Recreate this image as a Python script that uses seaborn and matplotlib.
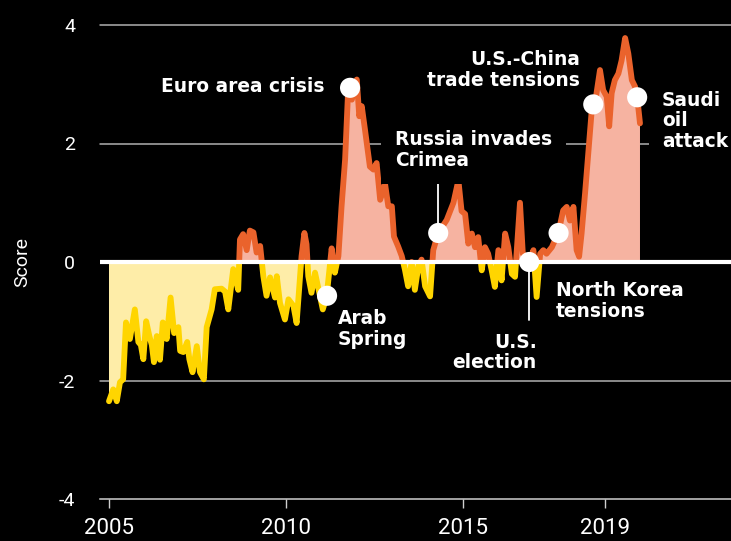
import matplotlib
matplotlib.use("Agg")
import matplotlib.pyplot as plt
from matplotlib.patches import Rectangle
import seaborn as sns
import numpy as np

# decimal year readings of the score line
years = [
    2005.00, 2005.12, 2005.22, 2005.31, 2005.40, 2005.48, 2005.59, 2005.73, 2005.83, 2005.90,
    2005.97, 2006.05, 2006.14, 2006.21, 2006.27, 2006.35, 2006.44, 2006.52, 2006.63, 2006.74,
    2006.84, 2006.96, 2007.01, 2007.10, 2007.21, 2007.27, 2007.36, 2007.48, 2007.57, 2007.68,
    2007.76, 2007.90, 2007.99, 2008.18, 2008.28, 2008.37, 2008.51, 2008.65, 2008.70, 2008.79,
    2008.89, 2008.98, 2009.08, 2009.17, 2009.27, 2009.36, 2009.45, 2009.55, 2009.69, 2009.74,
    2009.83, 2009.97, 2010.07, 2010.21, 2010.30, 2010.44, 2010.52, 2010.58, 2010.63, 2010.72,
    2010.82, 2010.94, 2011.04, 2011.15, 2011.29, 2011.38, 2011.48, 2011.57, 2011.67, 2011.76,
    2011.86, 2011.95, 2012.00, 2012.07, 2012.14, 2012.23, 2012.37, 2012.47, 2012.56, 2012.66,
    2012.80, 2012.89, 2012.99, 2013.05, 2013.17, 2013.27, 2013.36, 2013.45, 2013.55, 2013.64,
    2013.74, 2013.83, 2013.93, 2014.07, 2014.16, 2014.30, 2014.54, 2014.73, 2014.87, 2014.96,
    2015.06, 2015.15, 2015.25, 2015.34, 2015.43, 2015.53, 2015.62, 2015.71, 2015.81, 2015.90,
    2016.00, 2016.09, 2016.19, 2016.28, 2016.38, 2016.47, 2016.61, 2016.69, 2016.78, 2016.87,
    2016.99, 2017.08, 2017.18, 2017.27, 2017.36, 2017.51, 2017.60, 2017.69, 2017.83, 2017.93,
    2018.02, 2018.12, 2018.21, 2018.28, 2018.35, 2018.45, 2018.54, 2018.63, 2018.73, 2018.87,
    2018.96, 2019.06, 2019.13, 2019.20, 2019.29, 2019.39, 2019.48, 2019.58, 2019.67, 2019.77,
    2019.86, 2019.95, 2020.00,
]
scores = [
    -2.35, -2.15, -2.35, -2.03, -1.98, -1.02, -1.30, -0.80, -1.35, -1.40,
    -1.64, -1.00, -1.25, -1.40, -1.69, -1.25, -1.65, -1.02, -1.30, -0.60,
    -1.20, -1.10, -1.50, -1.52, -1.35, -1.64, -1.86, -1.42, -1.86, -1.98,
    -1.10, -0.80, -0.46, -0.45, -0.50, -0.80, -0.12, -0.47, 0.38, 0.47,
    0.20, 0.53, 0.50, 0.16, 0.27, -0.24, -0.57, -0.26, -0.60, -0.24,
    -0.69, -0.97, -0.63, -0.74, -1.03, 0.10, 0.49, 0.30, -0.24, -0.52,
    -0.18, -0.52, -0.80, -0.57, 0.23, -0.18, 0.10, 0.94, 1.73, 2.96,
    2.74, 2.96, 3.08, 2.46, 2.63, 2.24, 1.61, 1.56, 1.67, 1.05,
    1.31, 0.94, 0.94, 0.43, 0.26, 0.10, -0.13, -0.41, 0.00, -0.47,
    -0.07, 0.04, -0.41, -0.58, 0.20, 0.49, 0.71, 1.00, 1.38, 0.86,
    0.81, 0.31, 0.48, 0.25, 0.42, -0.14, 0.25, 0.14, -0.14, -0.42,
    0.20, -0.31, 0.48, 0.25, -0.20, -0.25, 1.00, 0.14, 0.09, 0.00,
    0.20, -0.59, 0.14, 0.20, 0.14, 0.25, 0.37, 0.48, 0.87, 0.93,
    0.70, 0.93, 0.20, 0.09, 0.48, 1.17, 1.84, 2.51, 2.68, 3.24,
    2.90, 2.79, 2.29, 2.85, 3.07, 3.18, 3.40, 3.78, 3.52, 3.07,
    2.96, 2.62, 2.34,
]

# events marked on the line
event_years = [2011.16, 2011.81, 2014.30, 2016.87, 2017.70, 2018.68, 2019.92]
event_scores = [-0.57, 2.94, 0.49, 0.00, 0.49, 2.66, 2.78]

y_ticks = [-4, -2, 0, 2, 4]
x_ticks = [2005, 2010, 2015, 2019]

ORANGE = "#EA632C"
YELLOW = "#FFD500"
SALMON = "#F6B3A1"
PALE = "#FEEDA8"

sns.set_style("dark", {"axes.facecolor": "black", "figure.facecolor": "black"})
plt.rcParams["font.family"] = ["Roboto", "DejaVu Sans"]

x = np.array(years)
y = np.array(scores)

fig = plt.figure(figsize=(7.31, 5.41), dpi=100)
ax = fig.add_axes([100 / 731, 1 - 499 / 541, 631 / 731, 474 / 541])
ax.set_facecolor("black")
ax.set_xlim(2004.746, 2022.571)
ax.set_ylim(-4, 4)

for g in [4, 2, -2]:
    ax.axhline(g, color="#b0b0b0", lw=1.1, zorder=0.5, clip_on=False)

ax.fill_between(x, y, 0, where=y >= 0, interpolate=True, color=SALMON, lw=0, zorder=1)
ax.fill_between(x, y, 0, where=y <= 0, interpolate=True, color=PALE, lw=0, zorder=1)

sns.lineplot(x=x, y=y, ax=ax, color=ORANGE, lw=4.2, estimator=None, sort=False, zorder=3)
sns.lineplot(x=x, y=y, ax=ax, color=YELLOW, lw=4.2, estimator=None, sort=False, zorder=3)
top = Rectangle((2004, 0), 20, 10, transform=ax.transData)
bottom = Rectangle((2004, -10), 20, 10, transform=ax.transData)
ax.lines[-2].set_clip_path(top)
ax.lines[-1].set_clip_path(bottom)

ax.axhline(0, color="white", lw=3, zorder=4)

# connector lines
ax.plot([2014.30, 2014.30], [0.49, 1.43], color="white", lw=1.3, zorder=4)
ax.plot([2016.87, 2016.87], [0.0, -0.98], color="white", lw=1.3, zorder=4)

sns.scatterplot(x=event_years, y=event_scores, ax=ax, color="white", s=210,
                edgecolor="none", zorder=6, clip_on=False)

tk = dict(color="white", fontsize=13.4, fontweight="bold", zorder=5, linespacing=1.1,
          family=["DejaVu Sans"])
ax.text(2011.10, 2.97, "Euro area crisis", ha="right", va="center", **tk)
ax.text(2011.47, -1.13, "Arab\nSpring", ha="left", va="center", **tk)
ax.text(2013.08, 1.89, "Russia invades\nCrimea", ha="left", va="center",
        bbox=dict(facecolor="black", edgecolor="none", pad=10), **tk)
ax.text(2018.30, 3.24, "U.S.-China\ntrade tensions", ha="right", va="center",
        multialignment="right", **tk)
ax.text(2020.62, 2.38, "Saudi\noil\nattack", ha="left", va="center",
        bbox=dict(facecolor="black", edgecolor="none", pad=9), **tk)
ax.text(2017.09, -1.53, "U.S.\nelection", ha="right", va="center", multialignment="right", **tk)
ax.text(2017.63, -0.66, "North Korea\ntensions", ha="left", va="center", **tk)

ax.set_yticks(y_ticks)
ax.set_xticks(x_ticks)
ax.set_yticklabels([str(v) for v in y_ticks])
ax.set_xticklabels([str(v) for v in x_ticks])
ax.tick_params(axis="y", length=0, pad=18, labelsize=14, labelcolor="white")
ax.tick_params(axis="x", length=6.5, width=1, color="#cfcfcf", pad=7, labelsize=16,
               labelcolor="white", direction="out", bottom=True)
ax.set_ylabel("Score", color="white", fontsize=14, labelpad=20)
ax.set_xlabel("")
ax.grid(False)

for s in ["top", "right", "left"]:
    ax.spines[s].set_visible(False)
ax.spines["bottom"].set_visible(True)
ax.spines["bottom"].set_color("#cfcfcf")
ax.spines["bottom"].set_linewidth(1.1)

fig.savefig("out.png", dpi=100, facecolor="black")
